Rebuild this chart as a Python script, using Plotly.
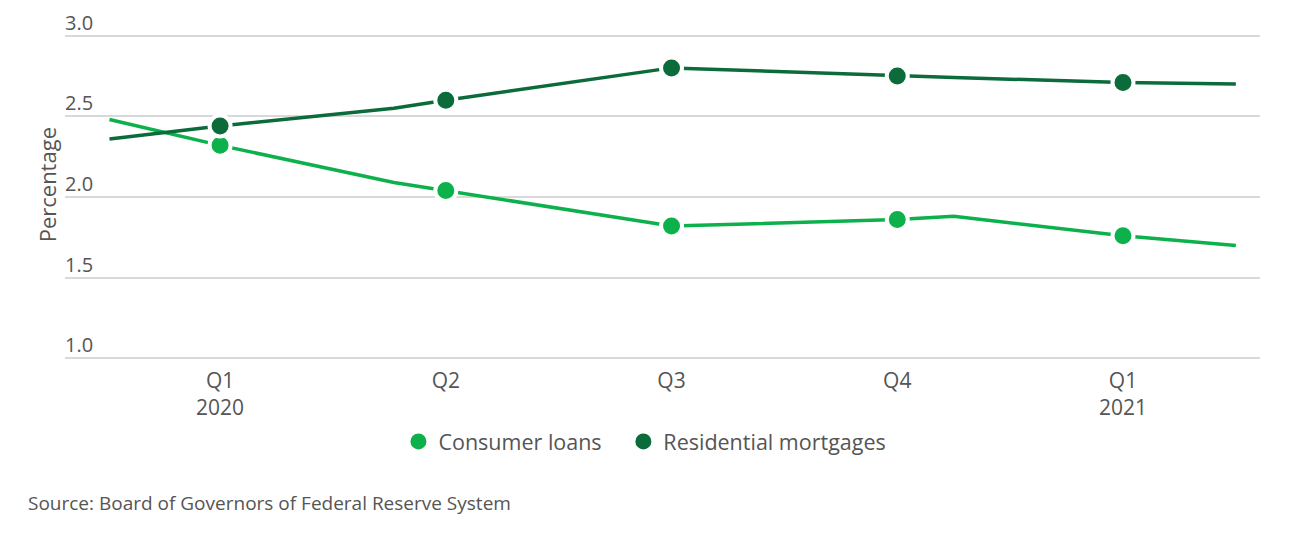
import plotly.graph_objects as go

# Quarter positions (index) and labels
quarter_pos = [0, 1, 2, 3, 4]
quarter_labels = ["Q1<br>2020", "Q2", "Q3", "Q4", "Q1<br>2021"]

# Quarterly values (markers)
consumer_q = [2.32, 2.04, 1.82, 1.86, 1.76]
mortgage_q = [2.44, 2.60, 2.80, 2.75, 2.71]

# Full line series (including intermediate points)
line_x = [-0.49, 0, 0.77, 1, 2, 3, 3.25, 4, 4.5]
consumer_line = [2.48, 2.32, 2.09, 2.04, 1.82, 1.86, 1.88, 1.76, 1.70]
mortgage_line = [2.36, 2.44, 2.55, 2.60, 2.80, 2.75, 2.74, 2.71, 2.70]

y_ticks = [1.0, 1.5, 2.0, 2.5, 3.0]
y_ticktext = ["1.0", "1.5", "2.0", "2.5", "3.0"]

series_names = ["Consumer loans", "Residential mortgages"]

c_light = "#0db14b"
c_dark = "#0b6b3a"
FONT = "Open Sans"
GRAY = "#555555"

fig = go.Figure()
fig.add_trace(go.Scatter(x=line_x, y=consumer_line, mode="lines",
                         line=dict(color=c_light, width=3.5), showlegend=False, hoverinfo="skip"))
fig.add_trace(go.Scatter(x=line_x, y=mortgage_line, mode="lines",
                         line=dict(color=c_dark, width=3.5), showlegend=False, hoverinfo="skip"))
fig.add_trace(go.Scatter(x=quarter_pos, y=consumer_q, mode="markers", showlegend=False,
                         marker=dict(color=c_light, size=21, line=dict(color="white", width=4))))
fig.add_trace(go.Scatter(x=quarter_pos, y=mortgage_q, mode="markers", showlegend=False,
                         marker=dict(color=c_dark, size=21, line=dict(color="white", width=4))))
# legend entries (non-breaking spaces widen the gap between items)
fig.add_trace(go.Scatter(x=[None], y=[None], mode="markers", name=series_names[0] + "\u00a0\u00a0\u00a0",
                         marker=dict(color=c_light, size=19, line=dict(width=0))))
fig.add_trace(go.Scatter(x=[None], y=[None], mode="markers", name=series_names[1],
                         marker=dict(color=c_dark, size=19, line=dict(width=0))))

annotations = [
    dict(text=t, xref="paper", yref="y", x=0, y=v, xanchor="left", yanchor="bottom",
         showarrow=False, xshift=-2, yshift=-2, font=dict(size=20, color=GRAY))
    for v, t in zip(y_ticks, y_ticktext)
]
annotations += [
    dict(text="Percentage", textangle=-90, xref="paper", yref="paper",
         x=-0.0151, y=0.5387, xanchor="center", yanchor="middle", showarrow=False,
         font=dict(size=22, color=GRAY)),
    dict(text="Source: Board of Governors of Federal Reserve System", xref="paper", yref="paper",
         x=-0.0326, y=-0.44, xanchor="left", yanchor="middle", showarrow=False,
         font=dict(size=19, color=GRAY)),
]

fig.update_layout(
    width=1292, height=529,
    margin=dict(l=57, r=40, t=26, b=177),
    paper_bgcolor="white", plot_bgcolor="white",
    font=dict(family=FONT, color=GRAY, size=19),
    xaxis=dict(range=[-0.687, 4.607], tickmode="array", tickvals=quarter_pos, ticktext=quarter_labels,
               showgrid=False, zeroline=False, showline=False, ticks="", automargin=False,
               ticklabelstandoff=6, tickfont=dict(size=21, color=GRAY)),
    yaxis=dict(range=[0.99, 3.01], tickmode="array", tickvals=y_ticks, showticklabels=False,
               showgrid=True, gridcolor="#d9d9d9", gridwidth=1.5,
               zeroline=False, showline=False, ticks="", automargin=False),
    legend=dict(orientation="h", x=0.4853, xanchor="center", y=-0.2497, yanchor="middle",
                font=dict(size=21.5, color=GRAY), bgcolor="rgba(0,0,0,0)"),
    annotations=annotations,
)

fig.write_html("out.html")
